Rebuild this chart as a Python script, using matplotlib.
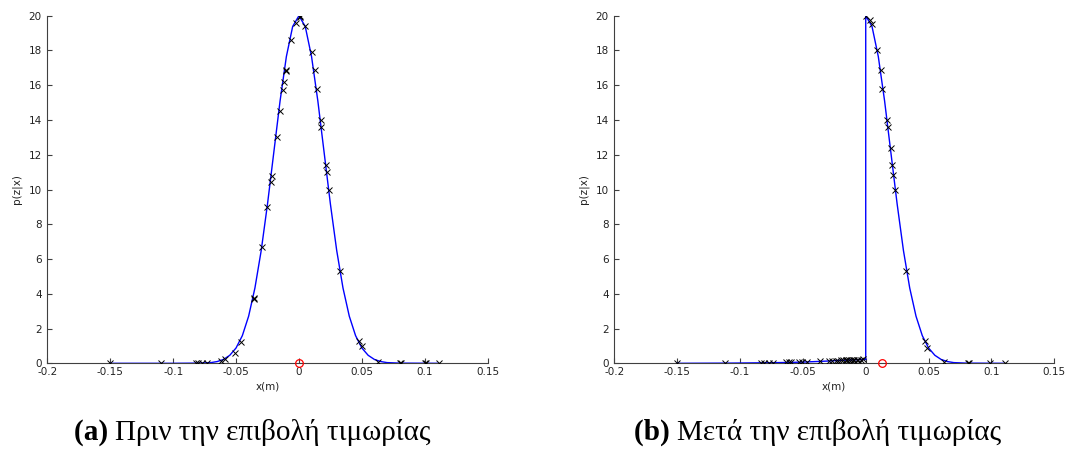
import matplotlib
matplotlib.use("Agg")
import matplotlib.pyplot as plt

# ---- data ----
xticks = [-0.2, -0.15, -0.1, -0.05, 0, 0.05, 0.1, 0.15]
xtick_labels = ["-0.2", "-0.15", "-0.1", "-0.05", "0", "0.05", "0.1", "0.15"]
yticks = [0, 2, 4, 6, 8, 10, 12, 14, 16, 18, 20]

# (a) before penalty: density curve
curve_a_x = [-0.15, -0.10, -0.08, -0.07, -0.065, -0.06, -0.055, -0.05, -0.045, -0.04,
             -0.035, -0.03, -0.025, -0.02, -0.015, -0.01, -0.005, 0.0, 0.005, 0.01,
             0.015, 0.02, 0.025, 0.03, 0.035, 0.04, 0.045, 0.05, 0.055, 0.06,
             0.065, 0.07, 0.08, 0.11]
curve_a_y = [0.0, 0.0, 0.01, 0.04, 0.10, 0.22, 0.46, 0.88, 1.59, 2.71,
             4.33, 6.49, 9.16, 12.13, 15.10, 17.65, 19.38, 20.0, 19.38, 17.65,
             15.10, 12.13, 9.16, 6.49, 4.33, 2.71, 1.59, 0.88, 0.46, 0.22,
             0.10, 0.04, 0.01, 0.0]
# (a) particles
part_a_x = [-0.150, -0.110, -0.082, -0.080, -0.077, -0.073, -0.062, -0.059, -0.051,
            -0.046, -0.036, -0.0355, -0.0296, -0.0253, -0.0222, -0.0216, -0.0171,
            -0.0150, -0.0127, -0.0119, -0.0106, -0.0104, -0.0066, -0.0027, 0.0005,
            0.001, 0.005, 0.010, 0.0126, 0.0145, 0.0172, 0.0176, 0.0212, 0.0219,
            0.0235, 0.0326, 0.048, 0.050, 0.063, 0.080, 0.081, 0.100, 0.101, 0.111]
part_a_y = [0.0, 0.0, 0.0, 0.0, 0.0, 0.03, 0.16, 0.26, 0.6,
            1.2, 3.7, 3.75, 6.7, 9.0, 10.45, 10.8, 13.0,
            14.5, 15.7, 16.2, 16.8, 16.9, 18.6, 19.6, 20.0,
            19.95, 19.4, 17.9, 16.9, 15.8, 14.0, 13.6, 11.4, 11.0,
            10.0, 5.3, 1.3, 1.0, 0.1, 0.0, 0.0, 0.0, 0.0, 0.0]
true_a_x = [0.0]
true_a_y = [0.0]

# (b) after penalty: density curve
curve_b_x = [-0.15, -0.11, -0.08, -0.06, -0.05, -0.04, -0.03, -0.02, -0.01, -0.003,
             0.0, 0.0, 0.005, 0.01, 0.015, 0.02, 0.025, 0.03, 0.035, 0.04,
             0.045, 0.05, 0.055, 0.06, 0.065, 0.07, 0.08, 0.11]
curve_b_y = [0.0, 0.01, 0.03, 0.05, 0.07, 0.10, 0.13, 0.17, 0.20, 0.22,
             0.22, 20.0, 19.38, 17.65, 15.10, 12.13, 9.16, 6.49, 4.33, 2.71,
             1.59, 0.88, 0.46, 0.22, 0.10, 0.04, 0.01, 0.0]
# (b) particles
part_b_x = [-0.150, -0.112, -0.083, -0.081, -0.077, -0.074, -0.0634, -0.0612, -0.0593,
            -0.0533, -0.0506, -0.0466, -0.0365, -0.029, -0.027, -0.024, -0.022,
            -0.020, -0.018, -0.016, -0.015, -0.013, -0.012, -0.010, -0.009,
            -0.007, -0.006, -0.004, -0.002, 0.0, 0.0034, 0.0053, 0.0093, 0.012,
            0.0132, 0.0172, 0.0177, 0.0198, 0.0212, 0.022, 0.0233, 0.032, 0.047,
            0.049, 0.062, 0.081, 0.082, 0.099, 0.111]
part_b_y = [0.0, 0.01, 0.03, 0.03, 0.04, 0.04, 0.05, 0.05, 0.06,
            0.07, 0.07, 0.08, 0.11, 0.12, 0.13, 0.15, 0.16,
            0.17, 0.18, 0.18, 0.19, 0.19, 0.20, 0.20, 0.20,
            0.21, 0.21, 0.21, 0.22, 20.0, 19.75, 19.5, 18.0, 16.9,
            15.8, 14.0, 13.6, 12.4, 11.4, 10.85, 10.0, 5.3, 1.3,
            0.9, 0.1, 0.0, 0.0, 0.0, 0.0]
true_b_x = [0.0127]
true_b_y = [0.0]

captions = [("(a)", "Πριν την επιβολή τιμωρίας"), ("(b)", "Μετά την επιβολή τιμωρίας")]
xlabel = "x(m)"
ylabel = "p(z|x)"

# ---- figure ----
W, H = 1065, 457
fig = plt.figure(figsize=(W / 100, H / 100), dpi=100)
fig.patch.set_facecolor("white")

axes_px = [(47.3, 15.7, 440.4, 347.6), (614.3, 15.7, 440.0, 347.6)]
datasets = [
    (curve_a_x, curve_a_y, part_a_x, part_a_y, true_a_x, true_a_y),
    (curve_b_x, curve_b_y, part_b_x, part_b_y, true_b_x, true_b_y),
]
axc = "#404040"
for (px, py, pw, ph), (cx, cy, mx, my, tx, ty) in zip(axes_px, datasets):
    ax = fig.add_axes([px / W, (H - py - ph) / H, pw / W, ph / H])
    ax.plot(cx, cy, color="#0000ff", lw=1.0, zorder=2)
    ax.plot(mx, my, linestyle="none", marker="x", color="black", ms=3.8, mew=0.7, zorder=3)
    ax.plot(tx, ty, linestyle="none", marker="o", mfc="none", mec="red", ms=5.5, mew=0.9,
            zorder=4, clip_on=False)
    ax.set_xlim(-0.2, 0.15)
    ax.set_ylim(0, 20)
    ax.set_xticks(xticks)
    ax.set_xticklabels(xtick_labels)
    ax.set_yticks(yticks)
    for s in ("top", "right"):
        ax.spines[s].set_visible(False)
    for s in ("left", "bottom"):
        ax.spines[s].set_color(axc)
        ax.spines[s].set_linewidth(0.8)
    ax.tick_params(direction="in", length=3.5, width=0.8, color=axc, labelsize=7.5,
                   labelcolor="#222222")
    ax.tick_params(axis="x", pad=3)
    ax.tick_params(axis="y", pad=4)
    ax.set_xlabel(xlabel, fontsize=7.5, color="#222222", labelpad=3)
    ax.set_ylabel(ylabel, fontsize=7.5, color="#222222", labelpad=5)
    ax.set_facecolor("white")

# captions: bold tag + regular text, centred as a whole
fig.canvas.draw()
renderer = fig.canvas.get_renderer()
centers = [252, 818]
cy = (H - 432) / H
for (tag, txt), cxp in zip(captions, centers):
    t1 = fig.text(0, cy, tag + " ", fontsize=21, fontweight="bold", family="Liberation Serif",
                  va="center", ha="left")
    t2 = fig.text(0, cy, txt, fontsize=21, family="Liberation Serif", va="center", ha="left")
    w1 = t1.get_window_extent(renderer).width
    w2 = t2.get_window_extent(renderer).width
    x0 = cxp - (w1 + w2) / 2
    t1.set_x(x0 / W)
    t2.set_x((x0 + w1) / W)

fig.savefig("out.png", dpi=100, facecolor="white")
